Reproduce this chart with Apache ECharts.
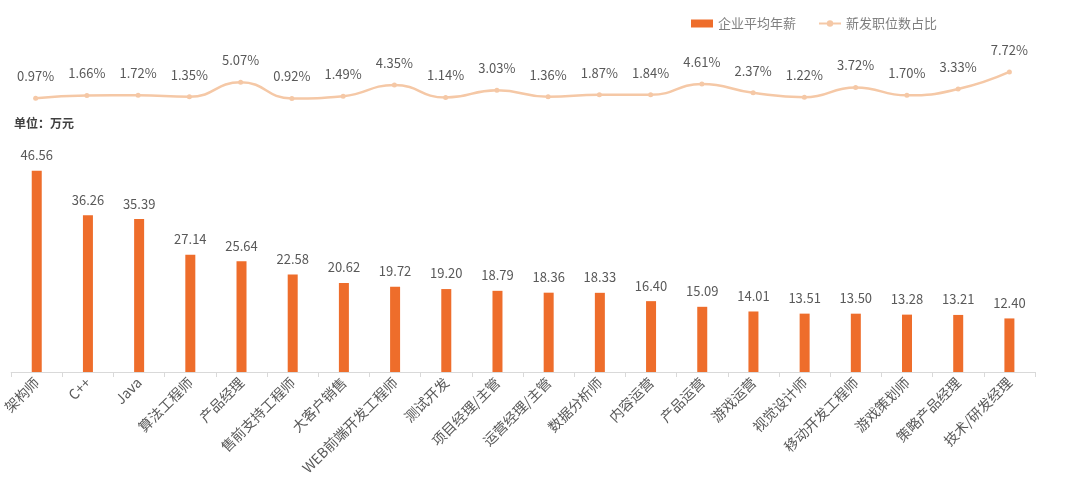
<!DOCTYPE html>
<html><head><meta charset="utf-8">
<script src="https://cdn.jsdelivr.net/npm/echarts@6/dist/echarts.min.js"></script>
<style>html,body{margin:0;padding:0;background:#fff}#c{width:1080px;height:489px}</style>
</head><body><div id="c"></div>
<script>
const categories = ["架构师","C++","Java","算法工程师","产品经理","售前支持工程师","大客户销售","WEB前端开发工程师","测试开发","项目经理/主管","运营经理/主管","数据分析师","内容运营","产品运营","游戏运营","视觉设计师","移动开发工程师","游戏策划师","策略产品经理","技术/研发经理"];
const salary = [46.56,36.26,35.39,27.14,25.64,22.58,20.62,19.72,19.20,18.79,18.36,18.33,16.40,15.09,14.01,13.51,13.50,13.28,13.21,12.40];
const share = [0.97,1.66,1.72,1.35,5.07,0.92,1.49,4.35,1.14,3.03,1.36,1.87,1.84,4.61,2.37,1.22,3.72,1.70,3.33,7.72];

const FONT = '"Noto Sans CJK SC", "Noto Sans", sans-serif';
const chart = echarts.init(document.getElementById('c'));
chart.setOption({
  animation: false,
  textStyle: {fontFamily: FONT},
  legend: {
    top: 12, left: 686,
    itemWidth: 22, itemHeight: 8, itemGap: 22,
    textStyle: {color: '#7f7f7f', fontSize: 13, fontFamily: FONT},
    data: [{name: '企业平均年薪', icon: 'rect'}, {name: '新发职位数占比'}]
  },
  graphic: [{
    type: 'text', left: 14, top: 117,
    style: {text: '单位：万元', fill: '#404040', font: 'bold 12px ' + FONT}
  }],
  grid: [
    {left: 10, right: 45, top: 156, bottom: 117},
    {left: 10, right: 45, top: 63, height: 39}
  ],
  xAxis: [
    {type: 'category', gridIndex: 0, data: categories,
     axisLine: {lineStyle: {color: '#d9d9d9'}},
     axisTick: {show: true, length: 5, lineStyle: {color: '#d9d9d9'}},
     axisLabel: {rotate: 45, color: '#595959', fontSize: 14, interval: 0, margin: 8, fontFamily: FONT}},
    {type: 'category', gridIndex: 1, data: categories, show: false}
  ],
  yAxis: [
    {type: 'value', gridIndex: 0, min: 0, max: 50, show: false, splitLine: {show: false}},
    {type: 'value', gridIndex: 1, min: 0, max: 10, show: false, splitLine: {show: false}}
  ],
  series: [
    {name: '企业平均年薪', type: 'bar', xAxisIndex: 0, yAxisIndex: 0, data: salary,
     barWidth: 10, itemStyle: {color: '#ee6d2b'},
     label: {show: true, position: 'top', distance: 9, color: '#595959', fontSize: 13,
             fontFamily: FONT, formatter: p => p.value.toFixed(2)}},
    {name: '新发职位数占比', type: 'line', xAxisIndex: 1, yAxisIndex: 1, data: share,
     smooth: true, symbol: 'circle', symbolSize: 5,
     lineStyle: {color: '#f5c8a6', width: 2.5}, itemStyle: {color: '#f5c8a6'},
     label: {show: true, position: 'top', distance: 13, color: '#595959', fontSize: 13,
             fontFamily: FONT, formatter: p => p.value.toFixed(2) + '%'}}
  ]
});
</script></body></html>
